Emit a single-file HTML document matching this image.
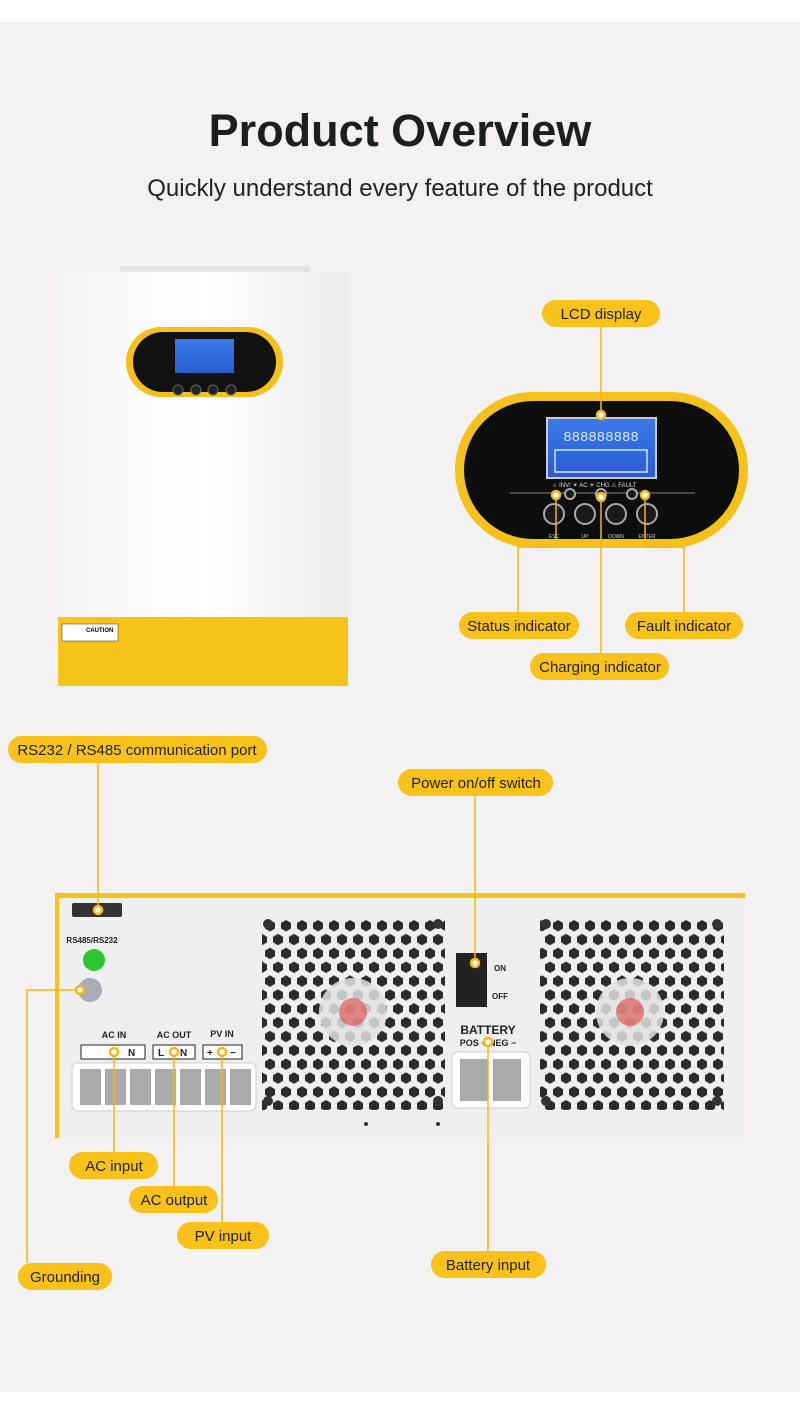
<!DOCTYPE html>
<html><head><meta charset="utf-8"><style>
html,body{margin:0;padding:0;background:#fff}
body{width:800px;height:1419px;position:relative;overflow:hidden;font-family:"Liberation Sans",sans-serif}
svg{position:absolute;left:0;top:0}
</style></head><body>
<svg width="800" height="1419" viewBox="0 0 800 1419" xmlns="http://www.w3.org/2000/svg" font-family="Liberation Sans, sans-serif">
<defs>
<pattern id="hex" width="16" height="27.7" patternUnits="userSpaceOnUse" x="262" y="918">
<polygon points="8,2 13,5 13,10.5 8,13.5 3,10.5 3,5" fill="#2b2b2d"/>
<polygon points="0,15.8 5,18.8 5,24.3 0,27.3 -5,24.3 -5,18.8" fill="#2b2b2d"/>
<polygon points="16,15.8 21,18.8 21,24.3 16,27.3 11,24.3 11,18.8" fill="#2b2b2d"/>
</pattern>
<linearGradient id="body" x1="0" x2="1"><stop offset="0" stop-color="#f4f4f4"/><stop offset="0.5" stop-color="#fff"/><stop offset="1" stop-color="#ececec"/></linearGradient>
<linearGradient id="lcd" x1="0" y1="0" x2="0" y2="1"><stop offset="0" stop-color="#3a7be8"/><stop offset="1" stop-color="#2a5bd0"/></linearGradient>
</defs>
<rect x="0" y="22" width="800" height="1370" fill="#f3f1f2"/>
<text x="400" y="146" font-size="45" font-weight="bold" text-anchor="middle" fill="#1e1e1e">Product Overview</text>
<text x="400" y="196" font-size="24" text-anchor="middle" fill="#222">Quickly understand every feature of the product</text>

<!-- front inverter -->
<rect x="120" y="266" width="190" height="6" fill="#e4e4e4"/>
<rect x="58" y="272" width="290" height="346" fill="url(#body)"/>
<rect x="58" y="617" width="290" height="69" fill="#f6c419"/>
<rect x="62" y="624" width="56" height="17" fill="#fff" stroke="#333" stroke-width="0.5"/>
<text x="86" y="632" font-size="6" font-weight="bold">CAUTION</text>
<rect x="126" y="327" width="157" height="70" rx="35" fill="#f5c01a"/>
<rect x="133" y="332" width="143" height="60" rx="30" fill="#111"/>
<rect x="175" y="339" width="59" height="34" fill="url(#lcd)"/>
<circle cx="178" cy="390" r="5" fill="#222" stroke="#666"/><circle cx="196" cy="390" r="5" fill="#222" stroke="#666"/><circle cx="213" cy="390" r="5" fill="#222" stroke="#666"/><circle cx="231" cy="390" r="5" fill="#222" stroke="#666"/>

<!-- zoomed display -->
<rect x="455" y="392" width="293" height="156" rx="78" fill="#f5c11b"/>
<rect x="464" y="401" width="275" height="138" rx="69" fill="#0d0d0d"/>
<rect x="547" y="418" width="109" height="60" fill="url(#lcd)" stroke="#ccc" stroke-width="2"/>
<text x="601" y="441" font-size="14" fill="#dfe8ff" text-anchor="middle" font-family="Liberation Mono,monospace">888888888</text>
<rect x="555" y="450" width="92" height="22" fill="none" stroke="#cfe0ff" stroke-width="1.5"/>
<text x="552" y="487" font-size="6" fill="#ddd">☼ INV/ ☀ AC ☀ CHG  ⚠ FAULT</text>
<line x1="510" y1="493" x2="695" y2="493" stroke="#888" stroke-width="1"/>
<g fill="#1a1a1a" stroke="#aaa" stroke-width="2">
<circle cx="570" cy="494" r="5"/><circle cx="601" cy="494" r="5"/><circle cx="632" cy="494" r="5"/>
<circle cx="554" cy="514" r="10"/><circle cx="585" cy="514" r="10"/><circle cx="616" cy="514" r="10"/><circle cx="647" cy="514" r="10"/>
</g>
<g font-size="5" fill="#ccc" text-anchor="middle"><text x="554" y="538">ESC</text><text x="585" y="538">UP</text><text x="616" y="538">DOWN</text><text x="647" y="538">ENTER</text></g>

<!-- back panel -->
<polygon points="55,893 745,893 745,898 62,898 62,905 55,905" fill="#f5c41a"/>
<rect x="55" y="898" width="690" height="240" fill="#efefef"/>
<rect x="55" y="898" width="4" height="240" fill="#f5c41a"/>
<rect x="72" y="903" width="50" height="14" rx="2" fill="#333"/>
<text x="92" y="943" font-size="8" font-weight="bold" text-anchor="middle" fill="#222">RS485/RS232</text>
<circle cx="94" cy="960" r="11" fill="#2ec52e"/>
<circle cx="90" cy="990" r="12" fill="#aab"/>
<rect x="262" y="918" width="183" height="192" fill="url(#hex)"/>
<rect x="540" y="918" width="184" height="192" fill="url(#hex)"/>
<circle cx="353" cy="1012" r="34" fill="#e2e2e2" opacity="0.85"/><circle cx="353" cy="1012" r="14" fill="#d44" opacity="0.6"/>
<circle cx="630" cy="1012" r="34" fill="#e2e2e2" opacity="0.85"/><circle cx="630" cy="1012" r="14" fill="#d44" opacity="0.6"/>
<g fill="#333"><circle cx="268" cy="924" r="5"/><circle cx="438" cy="924" r="5"/><circle cx="268" cy="1101" r="5"/><circle cx="438" cy="1101" r="5"/><circle cx="546" cy="924" r="5"/><circle cx="717" cy="924" r="5"/><circle cx="546" cy="1101" r="5"/><circle cx="717" cy="1101" r="5"/><circle cx="366" cy="1124" r="2"/><circle cx="438" cy="1124" r="2"/></g>
<rect x="456" y="953" width="31" height="54" fill="#222"/>
<text x="494" y="971" font-size="8" font-weight="bold" fill="#222">ON</text>
<text x="492" y="999" font-size="8" font-weight="bold" fill="#222">OFF</text>
<text x="488" y="1034" font-size="12" font-weight="bold" text-anchor="middle" fill="#222">BATTERY</text>
<text x="488" y="1046" font-size="9" font-weight="bold" text-anchor="middle" fill="#222">POS +   NEG −</text>
<rect x="452" y="1052" width="78" height="56" rx="5" fill="#fff" stroke="#ccc"/>
<rect x="460" y="1059" width="28" height="42" fill="#aaa"/><rect x="493" y="1059" width="28" height="42" fill="#aaa"/>
<g font-size="9" font-weight="bold" fill="#222" text-anchor="middle"><text x="114" y="1038">AC IN</text><text x="174" y="1038">AC OUT</text><text x="222" y="1037">PV IN</text></g>
<g fill="#fff" stroke="#222" stroke-width="1"><rect x="81" y="1045" width="64" height="14"/><rect x="153" y="1045" width="42" height="14"/><rect x="203" y="1045" width="39" height="14"/></g>
<g font-size="10" font-weight="bold" fill="#222"><text x="128" y="1056">N</text><text x="158" y="1056">L</text><text x="180" y="1056">N</text><text x="207" y="1056">+</text><text x="230" y="1056">−</text></g>
<rect x="72" y="1063" width="184" height="48" rx="6" fill="#fff" stroke="#ccc"/>
<g fill="#aaa"><rect x="80" y="1069" width="21" height="36"/><rect x="105" y="1069" width="21" height="36"/><rect x="130" y="1069" width="21" height="36"/><rect x="155" y="1069" width="21" height="36"/><rect x="180" y="1069" width="21" height="36"/><rect x="205" y="1069" width="21" height="36"/><rect x="230" y="1069" width="21" height="36"/></g>

<!-- connector lines -->
<g stroke="#f5b80f" stroke-width="1.5" fill="none">
<line x1="601" y1="326" x2="601" y2="415"/>
<polyline points="518,612 518,547 556,547 556,498"/>
<polyline points="684,612 684,547 645,547 645,498"/>
<line x1="601" y1="653" x2="601" y2="500"/>
<line x1="98" y1="763" x2="98" y2="910"/>
<line x1="475" y1="795" x2="475" y2="963"/>
<polyline points="27,1263 27,990 80,990"/>
<line x1="114" y1="1152" x2="114" y2="1052"/>
<line x1="174" y1="1186" x2="174" y2="1052"/>
<line x1="222" y1="1222" x2="222" y2="1052"/>
<line x1="488" y1="1251" x2="488" y2="1042"/>
</g>
<g fill="#fff" stroke="#f5b80f" stroke-width="2.5">
<circle cx="601" cy="415" r="4"/><circle cx="556" cy="495" r="4"/><circle cx="645" cy="495" r="4"/><circle cx="601" cy="497" r="4"/>
<circle cx="98" cy="910" r="4"/><circle cx="475" cy="963" r="4"/><circle cx="80" cy="990" r="4"/>
<circle cx="114" cy="1052" r="4"/><circle cx="174" cy="1052" r="4"/><circle cx="222" cy="1052" r="4"/><circle cx="488" cy="1042" r="4"/>
</g>

<!-- labels -->
<g fill="#f8c21a">
<rect x="542" y="300" width="118" height="27" rx="13.5"/>
<rect x="459" y="612" width="120" height="27" rx="13.5"/>
<rect x="625" y="612" width="118" height="27" rx="13.5"/>
<rect x="530" y="653" width="139" height="27" rx="13.5"/>
<rect x="8" y="736" width="259" height="27" rx="13.5"/>
<rect x="398" y="769" width="155" height="27" rx="13.5"/>
<rect x="69" y="1152" width="89" height="27" rx="13.5"/>
<rect x="129" y="1186" width="89" height="27" rx="13.5"/>
<rect x="177" y="1222" width="92" height="27" rx="13.5"/>
<rect x="18" y="1263" width="94" height="27" rx="13.5"/>
<rect x="431" y="1251" width="115" height="27" rx="13.5"/>
</g>
<g font-size="15" fill="#222" text-anchor="middle">
<text x="601" y="319">LCD display</text>
<text x="519" y="631">Status indicator</text>
<text x="684" y="631">Fault indicator</text>
<text x="600" y="672">Charging indicator</text>
<text x="137" y="755">RS232 / RS485 communication port</text>
<text x="476" y="788">Power on/off switch</text>
<text x="114" y="1171">AC input</text>
<text x="174" y="1205">AC output</text>
<text x="223" y="1241">PV input</text>
<text x="65" y="1282">Grounding</text>
<text x="488" y="1270">Battery input</text>
</g>
</svg>
</body></html>
